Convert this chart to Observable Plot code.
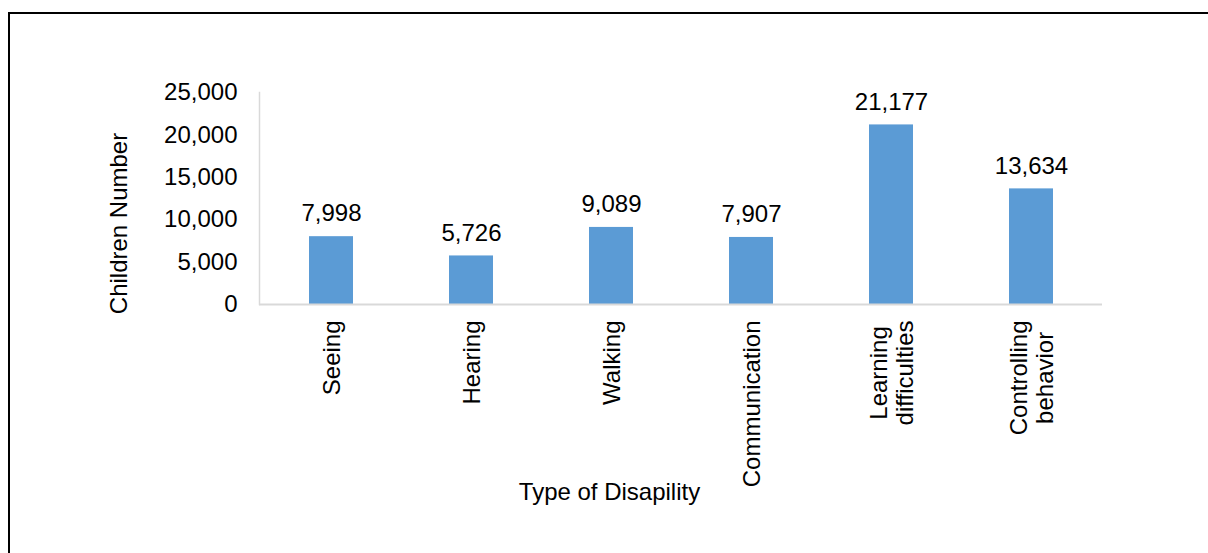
<!DOCTYPE html>
<html>
<head>
<meta charset="utf-8">
<script src="https://cdn.jsdelivr.net/npm/d3@7"></script>
<script src="https://cdn.jsdelivr.net/npm/@observablehq/plot@0.6"></script>
<style>
  html, body { margin: 0; padding: 0; background: #fff; }
  #wrap { position: relative; width: 1208px; height: 553px; overflow: hidden; }
  #wrap svg { position: absolute; left: 0; top: 0; }
  #border { position: absolute; left: 8px; top: 12px; width: 1210px; height: 560px;
            border-top: 2px solid #000; border-left: 2px solid #000; box-sizing: border-box; }
</style>
</head>
<body>
<div id="wrap"><div id="border"></div></div>
<script>
const categories = ["Seeing", "Hearing", "Walking", "Communication", "Learning\ndifficulties", "Controlling\nbehavior"];
const values = [7998, 5726, 9089, 7907, 21177, 13634];
const yTicks = [0, 5000, 10000, 15000, 20000, 25000];
const yTitle = "Children Number";
const xTitle = "Type of Disapility";

const FONT = "Liberation Sans, Arial, Helvetica, sans-serif";
const FS = 24;
const data = categories.map((c, i) => ({cat: c, value: values[i]}));
const fmt = d3.format(",");

const ctx = document.createElement("canvas").getContext("2d");
ctx.font = `${FS}px Liberation Sans`;
const halfLen = c => Math.max(...c.split("\n").map(s => ctx.measureText(s).width)) / 2;

const catMarks = categories.map(c =>
  Plot.text([c], {x: d => d, y: 0, text: d => d, rotate: -90, textAnchor: "middle",
    lineAnchor: "middle", lineHeight: 1.08, dy: 16 + halfLen(c), fill: "#000"})
);

const chart = Plot.plot({
  width: 1208, height: 553,
  marginLeft: 259, marginRight: 106, marginTop: 92, marginBottom: 249,
  style: {fontFamily: FONT, fontSize: FS + "px", color: "#000", background: "transparent"},
  x: {domain: categories, paddingInner: 0.687, paddingOuter: 0.3435, axis: null},
  y: {domain: [0, 25000], axis: null},
  marks: [
    Plot.frame({anchor: "left", stroke: "#d9d9d9", strokeWidth: 1.5}),
    Plot.barY(data, {x: "cat", y: "value", fill: "#5B9BD5"}),
    Plot.ruleY([0], {stroke: "#d9d9d9", strokeWidth: 2}),
    Plot.axisY({ticks: yTicks, tickFormat: fmt, tickSize: 0, tickPadding: 22, label: null, fill: "#000"}),
    Plot.text(data, {x: "cat", y: "value", text: d => fmt(d.value), lineAnchor: "middle", dy: -23, fill: "#000"}),
    ...catMarks,
    Plot.text([yTitle], {frameAnchor: "left", text: d => d, rotate: -90, textAnchor: "middle", lineAnchor: "middle", dx: -140, dy: 25, fill: "#000"}),
    Plot.text([xTitle], {frameAnchor: "bottom", text: d => d, textAnchor: "middle", lineAnchor: "middle", dx: -71.5, dy: 188, fill: "#000"})
  ]
});
document.getElementById("wrap").prepend(chart);
</script>
</body>
</html>
